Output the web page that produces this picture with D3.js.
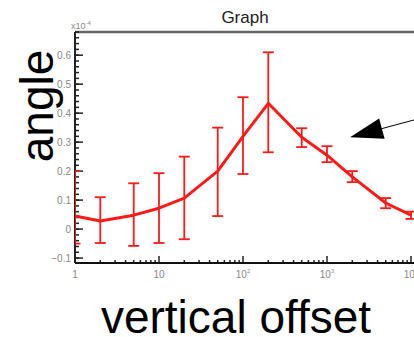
<!DOCTYPE html>
<html>
<head>
<meta charset="utf-8">
<script src="https://cdn.jsdelivr.net/npm/d3@7"></script>
<style>
  body { margin: 0; background: #fff; }
  svg { display: block; font-family: "Liberation Sans", Arial, sans-serif; }
</style>
</head>
<body>
<div id="chart"></div>
<script>
// data
var offsets = [1, 2, 5, 10, 20, 50, 100, 200, 500, 1000, 2000, 5000, 10000];
var angles  = [0.045, 0.028, 0.048, 0.072, 0.107, 0.2, 0.32, 0.434, 0.317, 0.255, 0.18, 0.09, 0.048];
var errLow  = [-0.05, -0.048, -0.058, -0.048, -0.035, 0.045, 0.19, 0.265, 0.283, 0.231, 0.162, 0.072, 0.035];
var errHigh = [0.2, 0.11, 0.158, 0.193, 0.25, 0.35, 0.455, 0.61, 0.348, 0.286, 0.2, 0.107, 0.06];
var yTicks = [-0.1, 0, 0.1, 0.2, 0.3, 0.4, 0.5, 0.6];
var xTicks = [1, 10, 100, 1000, 10000];
var xTickLabels = [["1", ""], ["10", ""], ["10", "2"], ["10", "3"], ["10", "4"]];
// annotation arrow, in data units: [tail, tip]
var arrowPts = [[11000, 0.377], [1880, 0.317]];

var width = 414, height = 337;
var margins = { top: 32, right: 0, bottom: 74, left: 75 };
var plotW = width - margins.left - margins.right;
var plotH = height - margins.top - margins.bottom;

var svg = d3.select("#chart").append("svg")
  .attr("width", width)
  .attr("height", height);

var x = d3.scaleLog().domain([1, 10000]).range([margins.left, 411]);
var y = d3.scaleLinear().domain([-0.117, 0.68]).range([margins.top + plotH, margins.top]);

svg.append("defs").append("clipPath").attr("id", "plot-clip")
  .append("rect")
  .attr("x", margins.left)
  .attr("y", margins.top)
  .attr("width", plotW)
  .attr("height", plotH);

// title
svg.append("text")
  .attr("x", 245)
  .attr("y", 23)
  .attr("text-anchor", "middle")
  .attr("font-size", 17)
  .attr("fill", "#222")
  .text("Graph");

// top frame
svg.append("line")
  .attr("x1", margins.left).attr("x2", width)
  .attr("y1", margins.top).attr("y2", margins.top)
  .attr("stroke", "#666").attr("stroke-width", 2.5);

// y axis, ticks pointing inside
var yMinor = d3.range(-0.1, 0.681, 0.02);
var yAxisG = svg.append("g").attr("class", "y axis");
yAxisG.selectAll("line.minor")
  .data(yMinor)
  .enter().append("line")
  .attr("class", "minor")
  .attr("x1", margins.left).attr("x2", margins.left + 4)
  .attr("y1", d => y(d)).attr("y2", d => y(d))
  .attr("stroke", "#222").attr("stroke-width", 1.5);
yAxisG.selectAll("line.major")
  .data(yTicks)
  .enter().append("line")
  .attr("class", "major")
  .attr("x1", margins.left).attr("x2", margins.left + 8)
  .attr("y1", d => y(d)).attr("y2", d => y(d))
  .attr("stroke", "#222").attr("stroke-width", 1.5);
yAxisG.selectAll("text")
  .data(yTicks)
  .enter().append("text")
  .attr("x", margins.left - 4)
  .attr("y", d => y(d))
  .attr("dy", "0.35em")
  .attr("text-anchor", "end")
  .attr("font-size", 10)
  .attr("fill", "#888")
  .text(d => d3.format("")(Math.round(d * 10) / 10));
yAxisG.append("line")
  .attr("x1", margins.left).attr("x2", margins.left)
  .attr("y1", margins.top).attr("y2", margins.top + plotH)
  .attr("stroke", "#222").attr("stroke-width", 2);

// exponent label
var expLabel = svg.append("text")
  .attr("x", 71)
  .attr("y", 29)
  .attr("font-size", 9)
  .attr("fill", "#888");
expLabel.append("tspan").text("x10");
expLabel.append("tspan").attr("dy", -4).attr("font-size", 6).text("-4");

// x axis, log ticks
var xMinor = [];
[1, 10, 100, 1000].forEach(function(dec) {
  for (var k = 2; k <= 9; k++) xMinor.push(dec * k);
});
var xAxisG = svg.append("g").attr("class", "x axis");
var bottom = margins.top + plotH;
xAxisG.selectAll("line.minor")
  .data(xMinor)
  .enter().append("line")
  .attr("class", "minor")
  .attr("x1", d => x(d)).attr("x2", d => x(d))
  .attr("y1", bottom).attr("y2", bottom - 3)
  .attr("stroke", "#222").attr("stroke-width", 1.5);
xAxisG.selectAll("line.major")
  .data(xTicks)
  .enter().append("line")
  .attr("class", "major")
  .attr("x1", d => x(d)).attr("x2", d => x(d))
  .attr("y1", bottom).attr("y2", bottom - 7)
  .attr("stroke", "#222").attr("stroke-width", 1.5);
var xLabels = xAxisG.selectAll("text")
  .data(xTicks)
  .enter().append("text")
  .attr("x", d => x(d))
  .attr("y", bottom + 15)
  .attr("text-anchor", "middle")
  .attr("font-size", 10)
  .attr("fill", "#888");
xLabels.append("tspan").text((d, i) => xTickLabels[i][0]);
xLabels.append("tspan").attr("dy", -5).attr("font-size", 6).text((d, i) => xTickLabels[i][1]);
xAxisG.append("line")
  .attr("x1", margins.left).attr("x2", width)
  .attr("y1", bottom).attr("y2", bottom)
  .attr("stroke", "#111").attr("stroke-width", 2);

// data
var plot = svg.append("g").attr("clip-path", "url(#plot-clip)");
var pts = offsets.map((d, i) => ({ x: d, y: angles[i], lo: errLow[i], hi: errHigh[i] }));

var bars = plot.append("g").attr("class", "errorbars")
  .selectAll("g")
  .data(pts)
  .enter().append("g")
  .attr("stroke", "#ff1a1a")
  .attr("stroke-width", 1.8);
bars.append("line")
  .attr("x1", d => x(d.x)).attr("x2", d => x(d.x))
  .attr("y1", d => y(d.lo)).attr("y2", d => y(d.hi));
bars.append("line")
  .attr("x1", d => x(d.x) - 5.5).attr("x2", d => x(d.x) + 5.5)
  .attr("y1", d => y(d.lo)).attr("y2", d => y(d.lo));
bars.append("line")
  .attr("x1", d => x(d.x) - 5.5).attr("x2", d => x(d.x) + 5.5)
  .attr("y1", d => y(d.hi)).attr("y2", d => y(d.hi));

var line = d3.line().x(d => x(d.x)).y(d => y(d.y));
plot.append("path")
  .datum(pts)
  .attr("d", line)
  .attr("fill", "none")
  .attr("stroke", "#ff1a1a")
  .attr("stroke-width", 3)
  .attr("stroke-linejoin", "round");

// arrow annotation
var tail = [x(arrowPts[0][0]), y(arrowPts[0][1])];
var tip = [x(arrowPts[1][0]), y(arrowPts[1][1])];
var ang = Math.atan2(tip[1] - tail[1], tip[0] - tail[0]);
var headLen = 33, headHalf = 10.5;
var base = [tip[0] - headLen * Math.cos(ang), tip[1] - headLen * Math.sin(ang)];
svg.append("line")
  .attr("x1", tail[0]).attr("y1", tail[1])
  .attr("x2", base[0]).attr("y2", base[1])
  .attr("stroke", "#000").attr("stroke-width", 1);
svg.append("path")
  .attr("d", "M" + tip + "L" + [base[0] + headHalf * Math.sin(ang), base[1] - headHalf * Math.cos(ang)] +
    "L" + [base[0] - headHalf * Math.sin(ang), base[1] + headHalf * Math.cos(ang)] + "Z")
  .attr("fill", "#000");

// axis titles
svg.append("text")
  .attr("x", 236)
  .attr("y", 333)
  .attr("text-anchor", "middle")
  .attr("font-size", 46)
  .attr("fill", "#000")
  .text("vertical offset");

svg.append("text")
  .attr("transform", "translate(53,106) rotate(-90)")
  .attr("text-anchor", "middle")
  .attr("font-size", 46)
  .attr("fill", "#000")
  .text("angle");
</script>
</body>
</html>
